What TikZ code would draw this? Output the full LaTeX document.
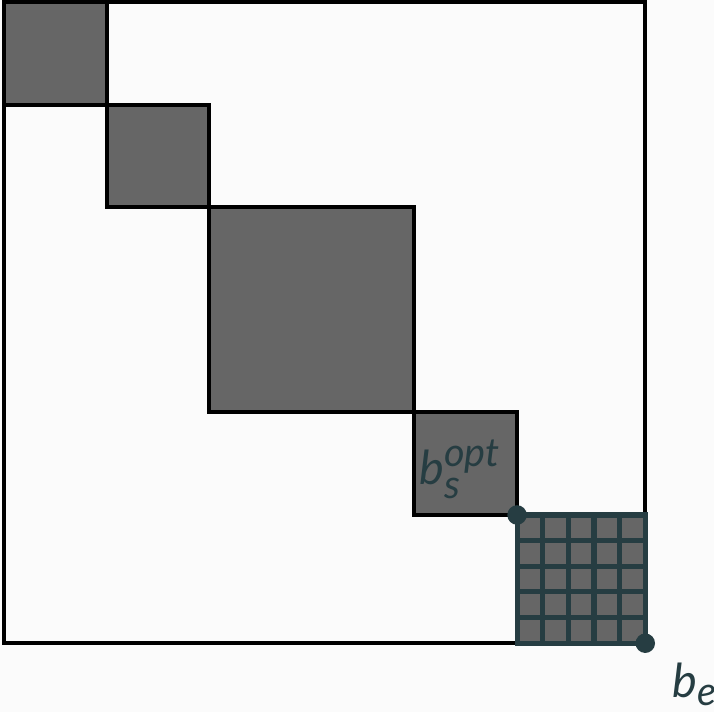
\documentclass[tikz,border=0pt]{standalone}
\usepackage{fontspec}
\setmainfont{Lato}
\usetikzlibrary{positioning}
\definecolor{fond}{HTML}{FBFBFB}
\definecolor{gris}{HTML}{666666}
\definecolor{ardoise}{HTML}{263D42}
\newcommand{\petit}[1]{{\fontsize{11}{13}\selectfont #1}}
\tikzset{
  cadre/.style={line width=1.1pt,draw=black},
  bloc/.style={line width=1.1pt,draw=black,fill=gris},
  grille/.style={line width=1.4pt,draw=ardoise},
  point/.style={circle,fill=ardoise,inner sep=0pt,minimum size=1.9mm},
  etiquette/.style={text=ardoise,font=\fontsize{13}{15}\selectfont\itshape,inner sep=0pt,anchor=base west}
}
\begin{document}
\begin{tikzpicture}
\pgfmathsetmacro{\taille}{6.25}
\pgfmathsetmacro{\pas}{0.25}
\useasboundingbox[fill=fond] (-0.04,0.02) rectangle (6.92,-6.92);
\draw[cadre] (0,0) rectangle (\taille,-\taille);
\foreach \a/\b in {0/1,1/2,2/4,4/5} {
 \draw[bloc] (\a,-\a) rectangle (\b,-\b);
}
\fill[gris] (5,-5) rectangle (\taille,-\taille);
\draw[grille] (5,-5) grid[step=\pas] (\taille,-\taille);
\draw[grille] (5,-5) rectangle (\taille,-\taille);
\node[point] (bs) at (5,-5) {};
\node[point] (be) at (\taille,-\taille) {};
\node[etiquette] (lbs) at (4.04,-4.70) {b\rlap{\raisebox{4.8pt}{\petit{opt}}}\raisebox{-4pt}{\petit{s}}};
\node[etiquette] (lbe) at (6.51,-6.775) {b\raisebox{-2.2pt}{\petit{e}}};
\end{tikzpicture}
\end{document}
